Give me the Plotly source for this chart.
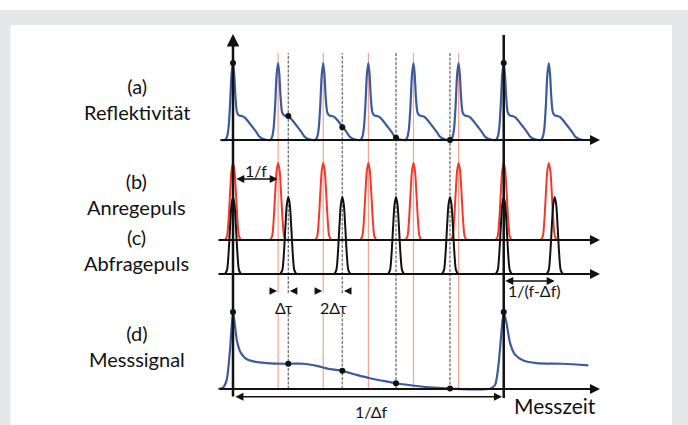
import plotly.graph_objects as go

# ---------------- data (time unit = one pump period 1/f, amplitude unit = pulse height) -------------
PUMP_T = [0, 1, 2, 3, 4, 5, 6, 7]
PROBE_T = [0, 1.226, 2.423, 3.613, 4.809, 6.0, 7.13]
GUIDE_PUMP_T = [1, 2, 3, 4, 5]
GUIDE_PROBE_T = [1.226, 2.423, 3.613, 4.809]
BROKEN_GUIDES = [1, 1.226, 2, 2.423]

# reflectivity response profile after each pump pulse
REFL_DT = [-0.177, -0.133, -0.1, -0.066, -0.033, 0, 0.027, 0.055, 0.089, 0.133, 0.2, 0.244,
           0.31, 0.377, 0.443, 0.51, 0.576, 0.643, 0.709, 0.776]
REFL_AMP = [0, 0.04, 0.15, 0.45, 0.85, 1.0, 0.85, 0.55, 0.36, 0.32, 0.31, 0.30,
            0.26, 0.21, 0.16, 0.11, 0.05, 0.02, 0.005, 0]
REFL_SAMPLE_T = [0, 1.226, 2.423, 3.613, 4.809, 6.0]
REFL_SAMPLE_AMP = [1.0, 0.31, 0.165, 0.03, 0.0, 1.0]

# laser pulse profile
PULSE_DT = [-0.177, -0.133, -0.1, -0.066, -0.033, 0, 0.033, 0.066, 0.1, 0.133, 0.177]
PULSE_AMP = [0, 0.05, 0.25, 0.6, 0.9, 1.0, 0.9, 0.6, 0.25, 0.05, 0]

# measured signal
SIG_T = [-0.326, -0.222, -0.14, -0.066, 0, 0.044, 0.082, 0.155, 0.266, 0.45, 0.747, 1.226,
         1.558, 1.855, 2.15, 2.422, 2.742, 3.036, 3.331, 3.613, 4.071, 4.439, 4.809, 5.696,
         5.807, 5.88, 5.955, 6.0, 6.06, 6.139, 6.25, 6.434, 6.731, 7.32, 7.875]
SIG_AMP = [0, 0.017, 0.118, 0.511, 1.0, 0.817, 0.642, 0.489, 0.402, 0.358, 0.337, 0.328,
           0.328, 0.301, 0.258, 0.236, 0.183, 0.139, 0.105, 0.075, 0.039, 0.017, 0.005, 0.004,
           0.052, 0.292, 0.772, 1.0, 0.861, 0.599, 0.446, 0.371, 0.337, 0.328, 0.306]
SIG_DOT_T = [0, 1.226, 2.423, 3.613, 4.809, 6.0]
SIG_DOT_AMP = [1.0, 0.328, 0.236, 0.075, 0.005, 1.0]

PANEL_TAGS = ["(a)", "(b)", "(c)", "(d)"]
PANEL_NAMES = ["Reflektivität", "Anregepuls", "Abfragepuls", "Messsignal"]

# ---------------- layout constants ----------------
BASE_A, BASE_B, BASE_C, BASE_D = 3.234, 1.935, 1.494, 0.0
XR = [-5.164, 10.084]
YR = [-0.4675, 5.052]
AX_LEFT_A, AX_LEFT_B, AX_LEFT_D, AX_RIGHT = -0.288, -0.355, -0.332, 8.134
GUIDE_TOP, GAP_TOP, GAP_BOT = 4.364, 1.247, 0.987
BLUE = "#3b5b9c"
RED = "#f2392b"
FONT = "Lato, Calibri, sans-serif"

fig = go.Figure()


def profile_series(centers, dts, amps, base):
    xs, ys = [], []
    for c in centers:
        for d, a in zip(dts, amps):
            xs.append(c + d)
            ys.append(base + a)
        xs.append(None)
        ys.append(None)
    return xs, ys


# reflectivity curve (a)
rx, ry = [AX_LEFT_A + 0.0], [BASE_A]
for c in PUMP_T:
    for d, a in zip(REFL_DT, REFL_AMP):
        rx.append(c + d)
        ry.append(BASE_A + a)
rx.append(7.85)
ry.append(BASE_A)
fig.add_trace(go.Scatter(x=rx, y=ry, mode="lines",
                         line=dict(color=BLUE, width=2.2, shape="spline", smoothing=0.7)))

# pump pulses (b)
px, py = profile_series(PUMP_T, PULSE_DT, PULSE_AMP, BASE_B)
fig.add_trace(go.Scatter(x=px, y=py, mode="lines",
                         line=dict(color=RED, width=2, shape="spline", smoothing=0.8)))
# probe pulses (c)
qx, qy = profile_series(PROBE_T, PULSE_DT, PULSE_AMP, BASE_C)
fig.add_trace(go.Scatter(x=qx, y=qy, mode="lines",
                         line=dict(color="#111111", width=2, shape="spline", smoothing=0.8)))

# signal (d)
fig.add_trace(go.Scatter(x=SIG_T, y=[BASE_D + v for v in SIG_AMP], mode="lines",
                         line=dict(color=BLUE, width=2.2, shape="spline", smoothing=0.7)))

# sample dots
fig.add_trace(go.Scatter(x=REFL_SAMPLE_T, y=[BASE_A + v for v in REFL_SAMPLE_AMP], mode="markers",
                         marker=dict(color="#111111", size=6)))
fig.add_trace(go.Scatter(x=SIG_DOT_T, y=[BASE_D + v for v in SIG_DOT_AMP], mode="markers",
                         marker=dict(color="#111111", size=6)))

shapes = []
# background frame
shapes.append(dict(type="rect", xref="paper", yref="paper", x0=0, x1=1, y0=0, y1=415 / 425,
                   fillcolor="#e6e7e8", line=dict(width=0), layer="below"))
shapes.append(dict(type="rect", xref="paper", yref="paper", x0=10.5 / 688, x1=672 / 688, y0=0,
                   y1=400 / 425, fillcolor="white", line=dict(width=0), layer="below"))


def guide(t, color, dash, width):
    if t in BROKEN_GUIDES:
        segs = [(GAP_TOP, GUIDE_TOP), (BASE_D, GAP_BOT)]
    else:
        segs = [(BASE_D, GUIDE_TOP)]
    for y0, y1 in segs:
        shapes.append(dict(type="line", x0=t, x1=t, y0=y0, y1=y1, xref="x", yref="y",
                           line=dict(color=color, width=width, dash=dash), layer="below"))


for t in GUIDE_PUMP_T:
    guide(t, "#f6a392", "solid", 1.2)
for t in GUIDE_PROBE_T:
    guide(t, "#7a7a7a", "3px,1.5px", 1.4)

# second vertical axis
shapes.append(dict(type="line", x0=6, x1=6, y0=-0.117, y1=4.597, xref="x", yref="y",
                   line=dict(color="#111111", width=2.5), layer="above"))
fig.update_layout(shapes=shapes)

ann = []


def arrow(x0, y0, x1, y1, width=2, head=2, both=False, size=1):
    d = dict(x=x1, y=y1, ax=x0, ay=y0, xref="x", yref="y", axref="x", ayref="y", text="",
             showarrow=True, arrowhead=head, arrowsize=size, arrowwidth=width,
             arrowcolor="#111111", standoff=0, startstandoff=0)
    if both:
        d.update(arrowside="end+start", startarrowhead=head, startarrowsize=size)
    ann.append(d)


# axes
arrow(0, -0.117, 0, 4.61, width=2.5)
arrow(AX_LEFT_A, BASE_A, AX_RIGHT, BASE_A)
arrow(AX_LEFT_B, BASE_B, AX_RIGHT, BASE_B)
arrow(AX_LEFT_B, BASE_C, AX_RIGHT, BASE_C)
arrow(AX_LEFT_D, BASE_D, AX_RIGHT, BASE_D)

# measurement arrows
arrow(0.04, 2.727, 0.99, 2.727, width=1.6, both=True, size=1)
arrow(6.0, 1.403, 7.13, 1.403, width=1.6, both=True, size=1)
arrow(0.02, -0.10, 5.96, -0.10, width=1.6, both=True, size=1)
arrow(0.78, 1.273, 0.975, 1.273, width=1.5, size=1)
arrow(1.42, 1.273, 1.26, 1.273, width=1.5, size=1)
arrow(1.78, 1.273, 1.975, 1.273, width=1.5, size=1)
arrow(2.64, 1.273, 2.46, 1.273, width=1.5, size=1)


def text(x, y, s, size=16):
    ann.append(dict(x=x, y=y, xref="x", yref="y", text=s, showarrow=False,
                    font=dict(family=FONT, size=size, color="#111111"),
                    xanchor="center", yanchor="middle"))


# block centres of each two-line panel label
label_y = [3.77, 2.537, 1.799, 0.565]
for tag, name, y in zip(PANEL_TAGS, PANEL_NAMES, label_y):
    text(-2.128, y, tag + "<br>" + name, size=20)

text(0.5, 2.844, "1/f")
text(1.13, 1.065, "Δτ")
text(2.238, 1.065, "2Δτ")
text(6.671, 1.273, "1/(f-Δf)")
text(3.058, -0.286, "1/Δf")
text(7.137, -0.208, "Messzeit", size=21)

fig.update_layout(
    annotations=ann,
    width=688, height=425,
    margin=dict(l=0, r=0, t=0, b=0),
    paper_bgcolor="white", plot_bgcolor="rgba(0,0,0,0)",
    showlegend=False,
    xaxis=dict(range=XR, visible=False, fixedrange=True),
    yaxis=dict(range=YR, visible=False, fixedrange=True),
)

fig.write_html("out.html")
